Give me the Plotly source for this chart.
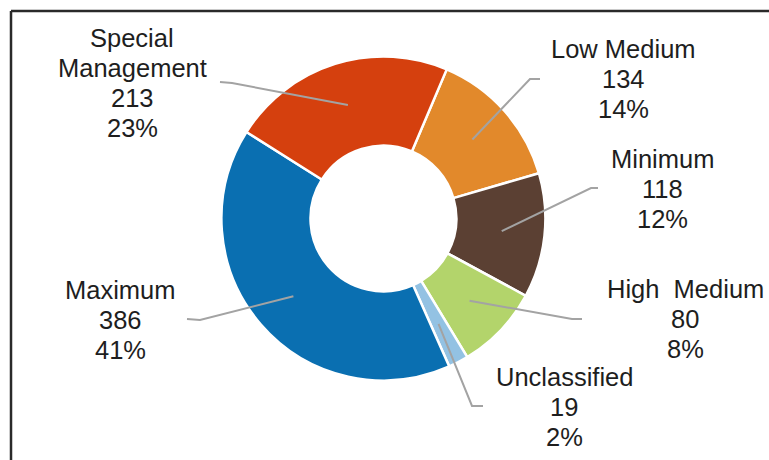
import math
import plotly.graph_objects as go

# Custody levels, in clockwise order from the top of the ring
levels = ["Low Medium", "Minimum", "High Medium", "Unclassified", "Maximum", "Special Management"]
counts = [134, 118, 80, 19, 386, 213]
shares = ["14%", "12%", "8%", "2%", "41%", "23%"]
colors = ["#E2892B", "#5B4033", "#B3D46B", "#93C2E3", "#0A6FB1", "#D5400E"]

# Label text lines (name may wrap onto two lines)
name_lines = {
    "Low Medium": ["Low Medium"],
    "Minimum": ["Minimum"],
    "High Medium": ["High  Medium"],
    "Unclassified": ["Unclassified"],
    "Maximum": ["Maximum"],
    "Special Management": ["Special", "Management"],
}

W, H = 769, 460
CX, CY, R = 383.4, 218.5, 162.0
ROTATION = 23.0
HOLE = 0.45

# label block placement: centre x, first baseline (px), leader elbow and end (px)
label_pos = {
    "Low Medium": (623, 58, (530, 79), (540, 79)),
    "Minimum": (662, 168, (591, 188), (598, 188)),
    "High Medium": (685, 298, (572, 319), (582, 319)),
    "Unclassified": (564, 386, (472, 406), (483, 406)),
    "Maximum": (120, 299, (200, 320), (187, 319)),
    "Special Management": (132, 47, (232, 83), (220, 82)),
}
LINE_STEP = 30
FONT_SIZE = 25.5
FONT = "Liberation Sans, Arial, sans-serif"


def px(x, y):
    return x / W, 1 - y / H


fig = go.Figure(
    go.Pie(
        labels=levels,
        values=counts,
        sort=False,
        direction="clockwise",
        rotation=ROTATION,
        hole=HOLE,
        textinfo="none",
        marker=dict(colors=colors, line=dict(color="white", width=2.5)),
        domain=dict(
            x=[(CX - R) / W, (CX + R) / W],
            y=[1 - (CY + R) / H, 1 - (CY - R) / H],
        ),
        showlegend=False,
        hoverinfo="label+value+percent",
    )
)

annotations = []
shapes = []
total = sum(counts)
start = ROTATION
for name, val, pct in zip(levels, counts, shares):
    sweep = val / total * 360
    mid = math.radians(start + sweep / 2)
    start += sweep
    # leader line from inside the slice to the label
    r_in = 119
    ix, iy = CX + r_in * math.sin(mid), CY - r_in * math.cos(mid)
    cx, base, elbow, end = label_pos[name]
    p0, p1, p2 = px(ix, iy), px(*elbow), px(*end)
    shapes.append(dict(
        type="path", xref="paper", yref="paper",
        path=f"M {p0[0]},{p0[1]} L {p1[0]},{p1[1]} L {p2[0]},{p2[1]}",
        line=dict(color="#A3A3A3", width=2),
    ))
    lines = name_lines[name] + [str(val), pct]
    for i, t in enumerate(lines):
        bx, by = px(cx, base + i * LINE_STEP - 0.35 * FONT_SIZE)
        annotations.append(dict(
            x=bx, y=by, xref="paper", yref="paper", text=t, showarrow=False,
            xanchor="center", yanchor="middle",
            font=dict(family=FONT, size=FONT_SIZE, color="#1E1E1E"),
        ))

# outer frame (top and left edges)
f0 = px(11, 11)
shapes.append(dict(type="line", xref="paper", yref="paper", x0=f0[0], y0=0, x1=f0[0], y1=f0[1],
                   line=dict(color="#2A2A2A", width=2.5)))
shapes.append(dict(type="line", xref="paper", yref="paper", x0=f0[0], y0=f0[1], x1=1, y1=f0[1],
                   line=dict(color="#2A2A2A", width=2.5)))

fig.update_layout(
    width=W, height=H,
    margin=dict(l=0, r=0, t=0, b=0),
    paper_bgcolor="white",
    plot_bgcolor="white",
    annotations=annotations,
    shapes=shapes,
)

fig.write_html("out.html")
